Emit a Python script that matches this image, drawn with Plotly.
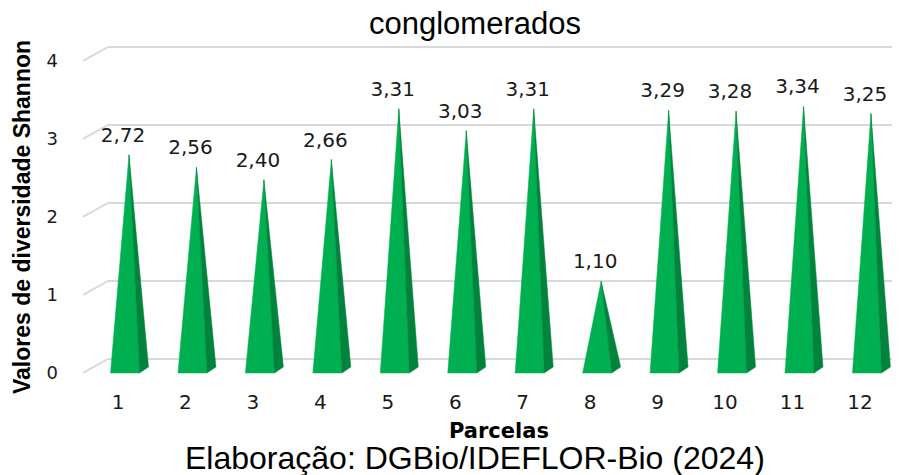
import plotly.graph_objects as go

# ---- data ----
categories = ["1", "2", "3", "4", "5", "6", "7", "8", "9", "10", "11", "12"]
shannon = [2.72, 2.56, 2.40, 2.66, 3.31, 3.03, 3.31, 1.10, 3.29, 3.28, 3.34, 3.25]
y_ticks = [0, 1, 2, 3, 4]

title_text = "conglomerados"
y_title = "Valores de diversidade Shannon"
x_title = "Parcelas"
caption = "Elaboração: DGBio/IDEFLOR-Bio (2024)"

# ---- layout geometry (pixels, page has an 8px body margin) ----
OFF = 8
W, H = 900 - OFF, 475 - OFF
ML, MT, PW, PH = 83 - OFF, 40 - OFF, 817, 340
MR = W - ML - PW
MB = H - MT - PH
PXU = 67.45   # px per category
PYU = 78.0    # px per value unit
ZERO_PY = 373 - OFF  # front zero line pixel row

x0 = 1 - 35 / PXU
x1 = x0 + PW / PXU
y_lo = (ZERO_PY - (MT + PH)) / PYU
y_hi = (ZERO_PY - MT) / PYU


def paper_x(px):
    return (px - OFF - ML) / PW


def paper_y(py):
    return (MT + PH - (py - OFF)) / PH


DEPTH_X = 25 / PXU   # wall depth offset
DEPTH_Y = 14 / PYU

GREEN = "#00B050"
GREEN_DARK = "#00843D"
GRID = "#D9D9D9"
FONT = "Liberation Sans, Arial, sans-serif"
FONT_W = "DejaVu Sans, Verdana, sans-serif"

fig = go.Figure()

# back wall gridlines + floor diagonals
shapes = []
for v in y_ticks:
    shapes.append(dict(type="line", xref="x", yref="y",
                       x0=x0 + DEPTH_X, x1=x1, y0=v + DEPTH_Y, y1=v + DEPTH_Y,
                       line=dict(color=GRID, width=2), layer="below"))
    shapes.append(dict(type="line", xref="x", yref="y",
                       x0=x0, x1=x0 + DEPTH_X, y0=v, y1=v + DEPTH_Y,
                       line=dict(color=GRID, width=2), layer="below"))

# pyramids
a_off, b_off = -7.5 / PXU, 21.5 / PXU
back_off = 30.5 / PXU
apex_off = 11 / PXU
bar_dy = 6 / PYU
for i, v in enumerate(shannon):
    k = i + 1
    ax, bx = k + a_off, k + b_off
    px_, py_ = k + apex_off, v + bar_dy
    fig.add_trace(go.Scatter(
        x=[ax, bx, px_, ax], y=[0, 0, py_, 0], mode="lines", fill="toself",
        fillcolor=GREEN, line=dict(color=GREEN, width=0.5),
        hoverinfo="skip", showlegend=False))
    fig.add_trace(go.Scatter(
        x=[bx, k + back_off, px_, bx], y=[0, bar_dy, py_, 0], mode="lines", fill="toself",
        fillcolor=GREEN_DARK, line=dict(color=GREEN_DARK, width=0.5),
        hoverinfo="skip", showlegend=False))

# data labels
fig.add_trace(go.Scatter(
    x=[i + 1 + 5 / PXU for i in range(len(shannon))],
    y=[v + 24 / PYU for v in shannon],
    mode="text",
    text=[f"{v:.2f}".replace(".", ",") for v in shannon],
    textposition="middle center",
    textfont=dict(family=FONT_W, size=20, color="#1a1a1a"),
    hoverinfo="skip", showlegend=False))

fig.update_layout(
    width=W, height=H,
    margin=dict(l=ML, r=MR, t=MT, b=MB),
    paper_bgcolor="white", plot_bgcolor="white",
    shapes=shapes,
    xaxis=dict(range=[x0, x1], tickvals=list(range(1, len(categories) + 1)),
               ticktext=categories, showgrid=False, zeroline=False,
               showline=False, ticks="", ticklabelstandoff=8,
               tickfont=dict(family=FONT_W, size=20, color="#1a1a1a")),
    yaxis=dict(range=[y_lo, y_hi], tickvals=y_ticks,
               ticktext=[str(t) for t in y_ticks], showgrid=False,
               zeroline=False, showline=False, ticks="", ticklabelstandoff=24,
               tickfont=dict(family=FONT_W, size=18, color="#1a1a1a")),
    annotations=[
        dict(text=title_text, xref="paper", yref="paper",
             x=paper_x(475), y=paper_y(23.5), showarrow=False,
             xanchor="center", yanchor="middle",
             font=dict(family=FONT, size=31, color="black")),
        dict(text=caption, xref="paper", yref="paper",
             x=paper_x(475), y=paper_y(458), showarrow=False,
             xanchor="center", yanchor="middle",
             font=dict(family=FONT, size=32, color="black")),
        dict(text=f"<b>{x_title}</b>", xref="paper", yref="paper",
             x=paper_x(499), y=paper_y(431), showarrow=False,
             xanchor="center", yanchor="middle",
             font=dict(family=FONT_W, size=21, color="black")),
        dict(text=f"<b>{y_title}</b>", xref="paper", yref="paper",
             x=paper_x(22), y=paper_y(217), showarrow=False,
             xanchor="center", yanchor="middle", textangle=-90,
             font=dict(family=FONT, size=23, color="black")),
    ],
)

fig.write_html("out.html")
